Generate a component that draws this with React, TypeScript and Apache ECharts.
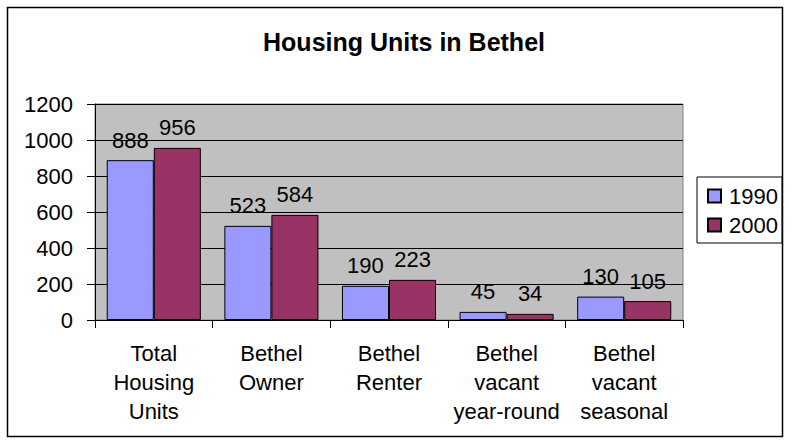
import React, { useEffect, useRef } from "react";
import * as echarts from "echarts";

const categories = [
  "Total\nHousing\nUnits",
  "Bethel\nOwner",
  "Bethel\nRenter",
  "Bethel\nvacant\nyear-round",
  "Bethel\nvacant\nseasonal",
];
const values1990 = [888, 523, 190, 45, 130];
const values2000 = [956, 584, 223, 34, 105];
const seriesNames = ["1990", "2000"];
const chartTitle = "Housing Units in Bethel";

const FONT = "'Liberation Sans', Arial, Helvetica, sans-serif";

export default function App() {
  const ref = useRef<HTMLDivElement>(null);
  useEffect(() => {
    if (!ref.current) return;
    const chart = echarts.init(ref.current, undefined, { renderer: "svg" });
    const labelCfg = {
      show: true,
      position: "top",
      distance: 9,
      color: "#000",
      fontFamily: FONT,
      fontSize: 22,
    };
    chart.setOption({
      animation: false,
      backgroundColor: "#fff",
      title: {
        text: chartTitle,
        left: 399,
        textAlign: "center",
        top: 24,
        textStyle: { fontFamily: FONT, fontSize: 25, fontWeight: "bold", color: "#000" },
      },
      graphic: [
        {
          type: "rect",
          shape: { x: 7.5, y: 7.5, width: 775, height: 429 },
          style: { fill: "none", stroke: "#000", lineWidth: 1.5 },
          silent: true,
        },
      ],
      legend: {
        orient: "vertical",
        left: 697,
        top: 177,
        padding: [8, 4, 7, 10],
        itemGap: 7,
        itemWidth: 13,
        itemHeight: 13,
        borderColor: "#000",
        borderWidth: 1,
        backgroundColor: "#fff",
        icon: "rect",
        textStyle: { fontFamily: FONT, fontSize: 22, color: "#000", padding: [0, 0, 0, 3] },
        data: seriesNames,
      },
      grid: {
        left: 95,
        top: 104,
        right: 108,
        bottom: 125,
        show: true,
        backgroundColor: "#C0C0C0",
        borderColor: "#808080",
        borderWidth: 1,
        containLabel: false,
      },
      xAxis: {
        type: "category",
        data: categories,
        axisLine: { lineStyle: { color: "#000", width: 1 } },
        axisTick: { show: true, length: 8, lineStyle: { color: "#000" } },
        axisLabel: {
          interval: 0,
          margin: 19,
          color: "#000",
          fontFamily: FONT,
          fontSize: 22,
          lineHeight: 29,
        },
      },
      yAxis: {
        type: "value",
        min: 0,
        max: 1200,
        interval: 200,
        axisLine: { show: true, lineStyle: { color: "#000", width: 1 } },
        axisTick: { show: true, length: 8, lineStyle: { color: "#000" } },
        splitLine: { show: true, lineStyle: { color: "#000", width: 1 } },
        axisLabel: {
          margin: 22,
          color: "#000",
          fontFamily: FONT,
          fontSize: 22,
          formatter: (v: number) => String(v),
        },
      },
      series: [
        {
          name: seriesNames[0],
          type: "bar",
          data: values1990,
          barGap: "0%",
          barCategoryGap: "20%",
          itemStyle: { color: "#9999FF", borderColor: "#000", borderWidth: 1 },
          label: labelCfg,
        },
        {
          name: seriesNames[1],
          type: "bar",
          data: values2000,
          barGap: "0%",
          barCategoryGap: "20%",
          itemStyle: { color: "#993366", borderColor: "#000", borderWidth: 1 },
          label: labelCfg,
        },
      ],
    });
    return () => chart.dispose();
  }, []);
  return (
    <div
      ref={ref}
      style={{ position: "fixed", left: 0, top: 0, width: 791, height: 445 }}
    />
  );
}
